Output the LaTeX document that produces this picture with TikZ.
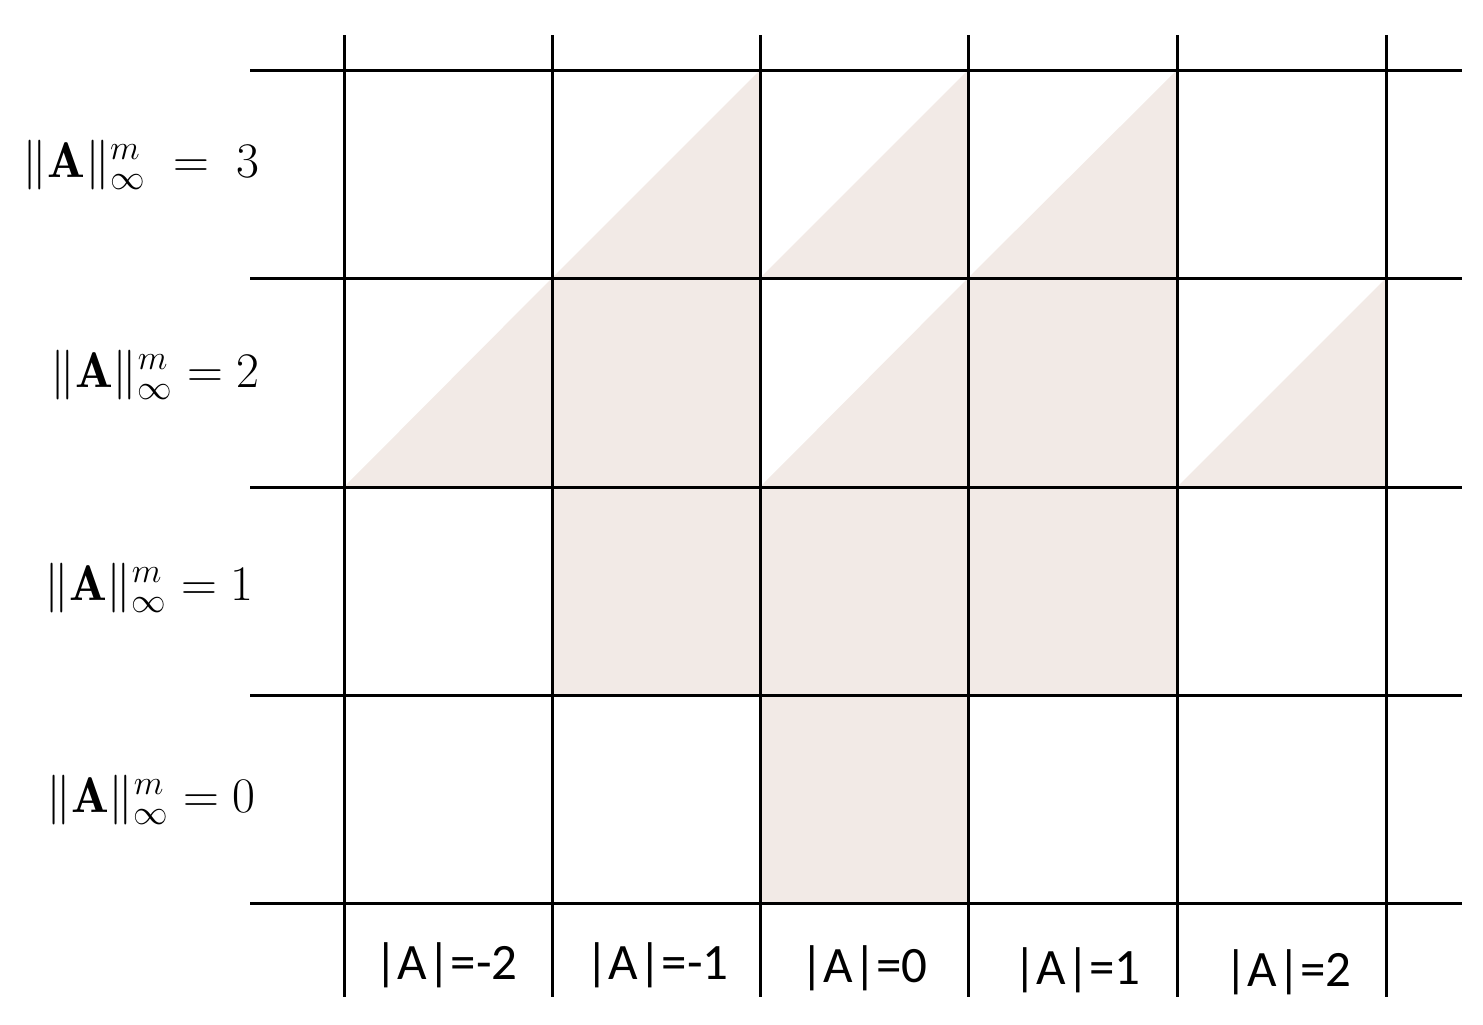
\documentclass[tikz,border=0pt]{standalone}
\usepackage{amsmath}
\usepackage{fontspec}
\newfontfamily\calib{Carlito}
\definecolor{shade}{RGB}{242,234,230}
\begin{document}
\begin{tikzpicture}[x=0.5pt,y=-0.5pt,
  gridline/.style={line width=1.5pt,black},
  fillcell/.style={fill=shade},
  rowlab/.style={anchor=east,inner sep=0pt,font=\fontsize{25}{28}\selectfont},
  collab/.style={inner sep=0pt,font=\calib\fontsize{25.5}{28}\selectfont}]
\useasboundingbox (0,0) rectangle (1483,1024);
% shading
\fill[fillcell] (552,278) -- (760,278) -- (760,70) -- cycle;
\fill[fillcell] (760,278) -- (968,278) -- (968,70) -- cycle;
\fill[fillcell] (968,278) -- (1177,278) -- (1177,70) -- cycle;
\fill[fillcell] (344,487) -- (552,487) -- (552,278) -- cycle;
\fill[fillcell] (552,278) rectangle (760,487);
\fill[fillcell] (760,487) -- (968,487) -- (968,278) -- cycle;
\fill[fillcell] (968,278) rectangle (1177,487);
\fill[fillcell] (1177,487) -- (1386,487) -- (1386,278) -- cycle;
\fill[fillcell] (552,487) rectangle (1177,695);
\fill[fillcell] (760,695) rectangle (968,903);
% grid
\foreach \y in {70,278,487,695,903} \draw[gridline] (250,\y) -- (1462,\y);
\foreach \x in {344,552,760,968,1177,1386} \draw[gridline] (\x,35) -- (\x,997);
% row labels
\node[rowlab] (r3) at (260,165) {$\|\mathbf{A}\|_\infty^m \;=\; 3$};
\node[rowlab] (r2) at (260,375) {$\|\mathbf{A}\|_\infty^m = 2$};
\node[rowlab] (r1) at (254,588) {$\|\mathbf{A}\|_\infty^m = 1$};
\node[rowlab] (r0) at (256,800) {$\|\mathbf{A}\|_\infty^m = 0$};
% column labels
\node[collab] (cm2) at (446,965) {|A|=-2};
\node[collab] (cm1) at (657,965) {|A|=-1};
\node[collab] (c0) at (864,968) {|A|=0};
\node[collab] (c1) at (1077,970) {|A|=1};
\node[collab] (c2) at (1288,972) {|A|=2};
\end{tikzpicture}
\end{document}
